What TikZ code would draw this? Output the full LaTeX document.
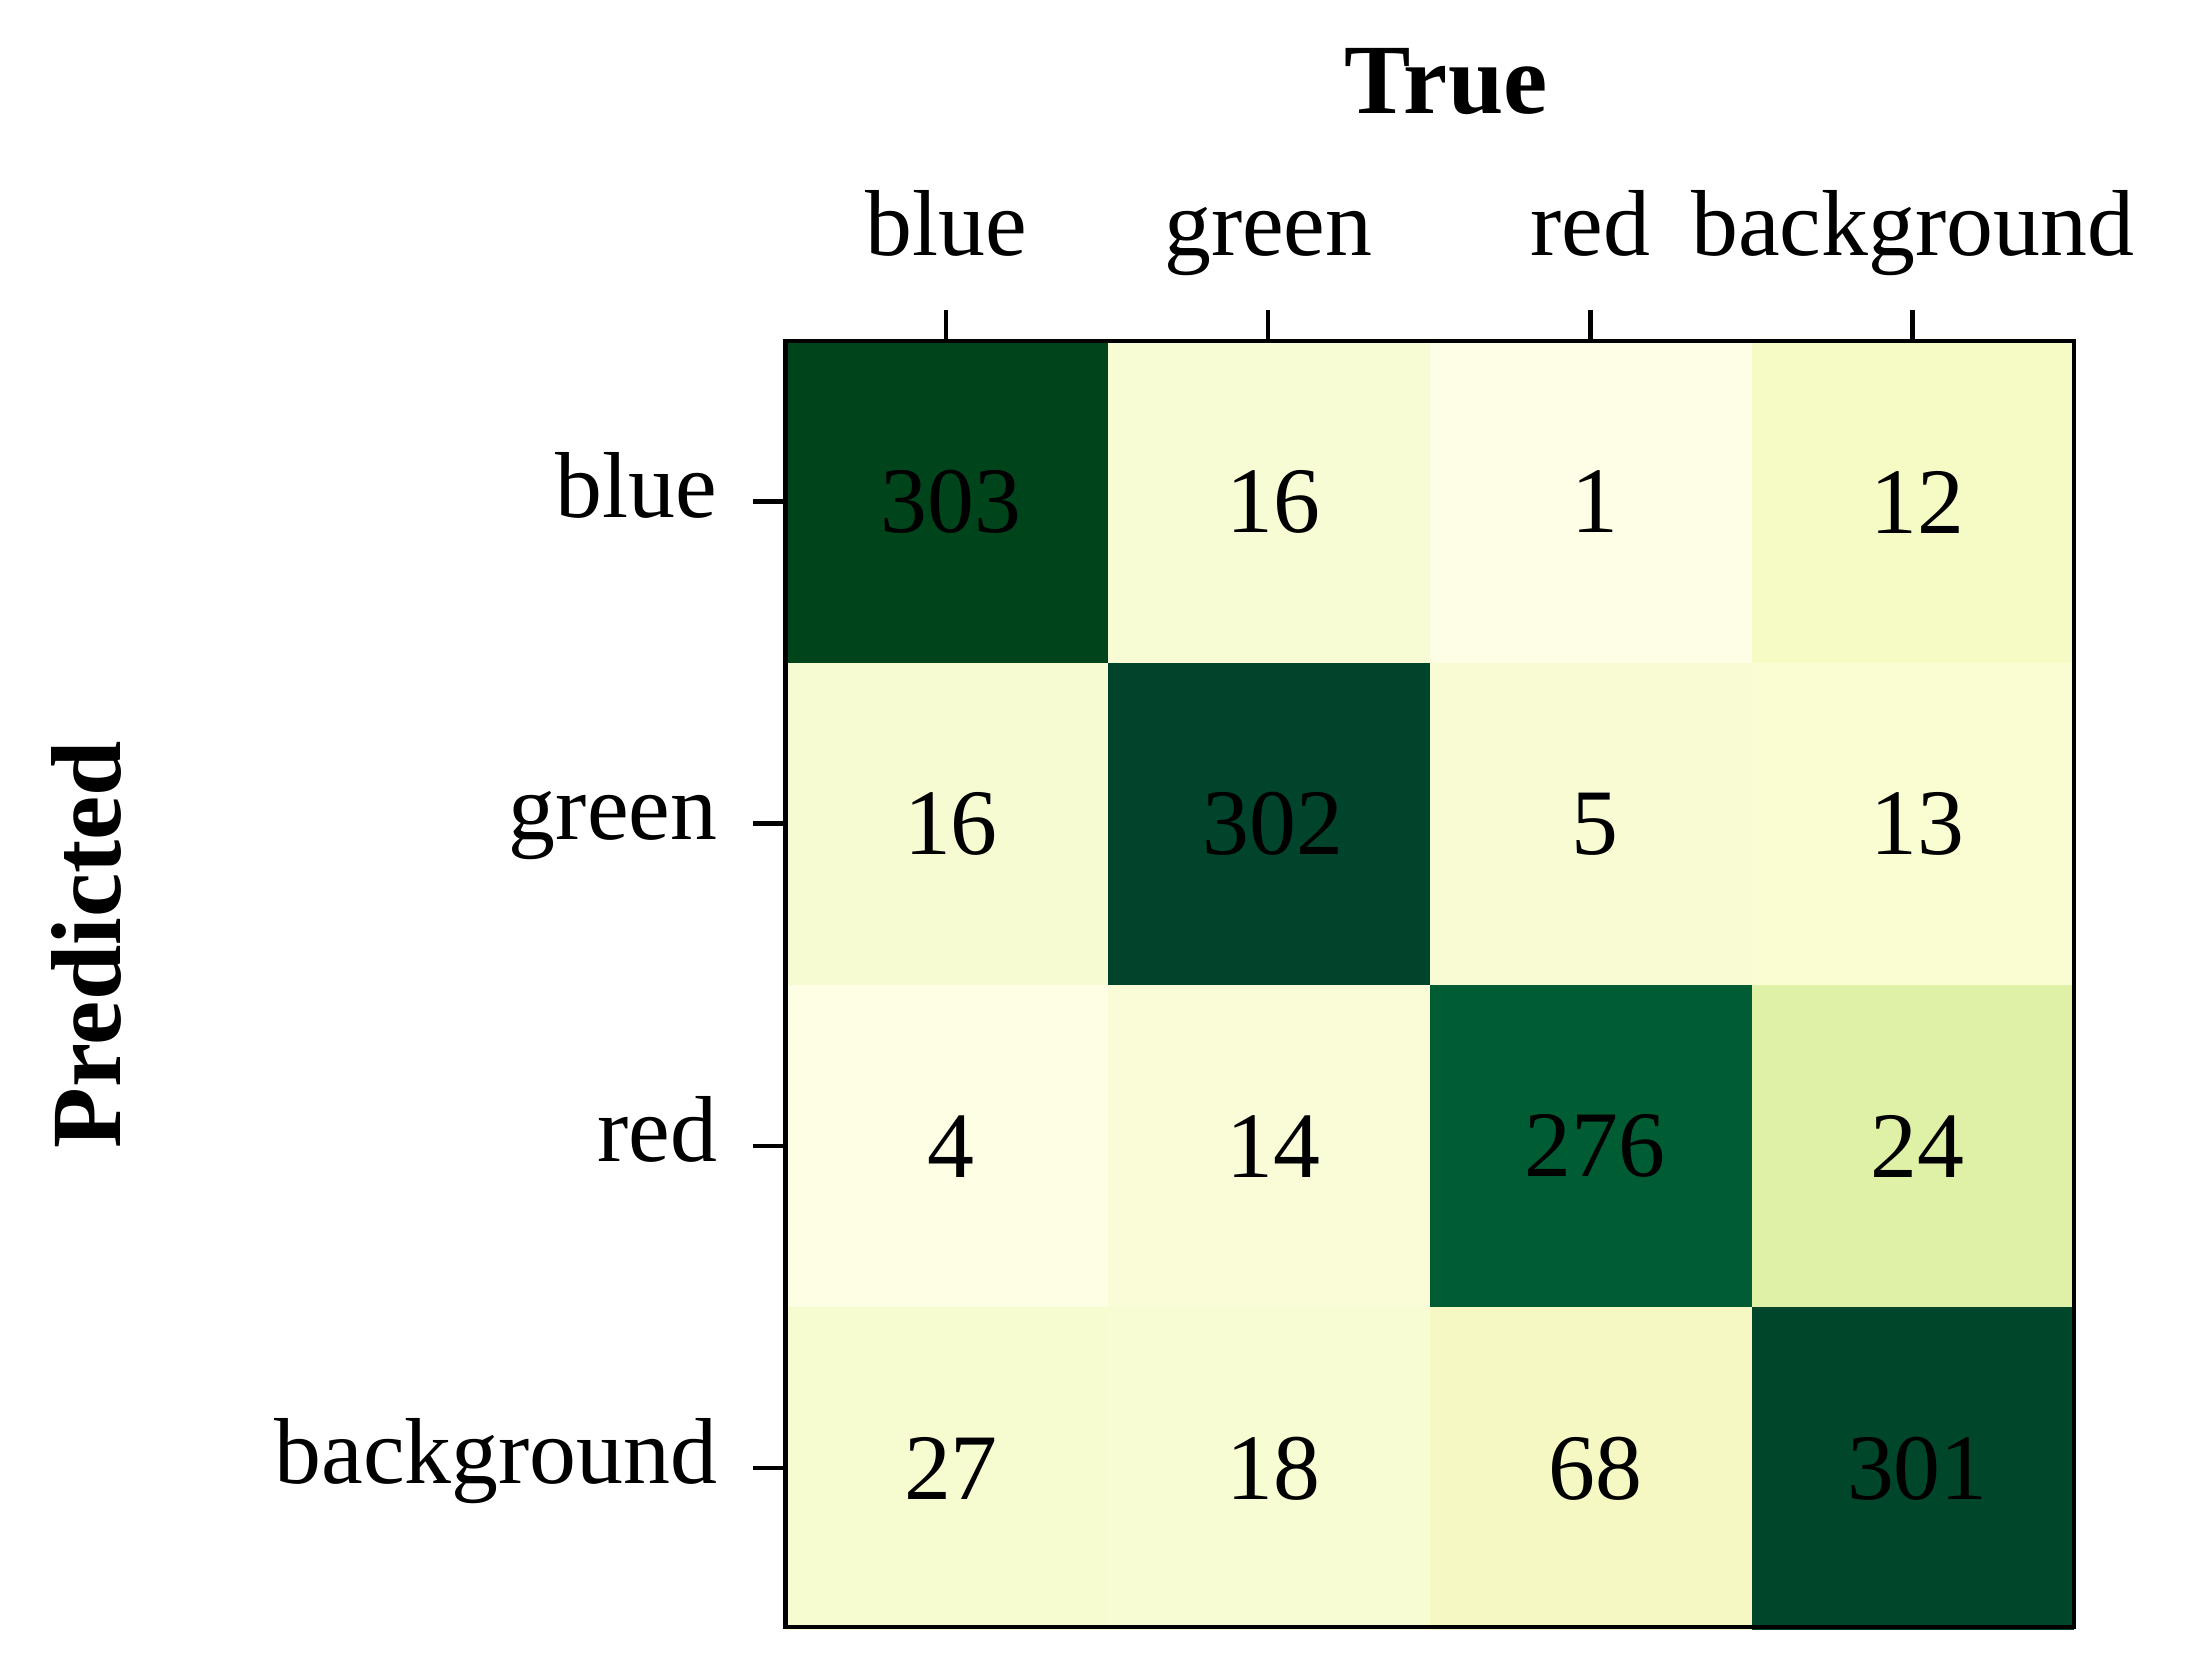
\documentclass[tikz,border=0pt]{standalone}
\usepackage{fontspec}
\setmainfont{Liberation Serif}
\begin{document}
\begin{tikzpicture}[x=1pt,y=-1pt,
  lab/.style={font=\fontsize{66}{70}\selectfont, inner sep=0pt},
  num/.style={font=\fontsize{66}{70}\selectfont, inner sep=0pt}]
\useasboundingbox (0,0) rectangle (1550,1170);
\def\cs{226.75}
\definecolor{c303}{HTML}{00441B}\definecolor{c302}{HTML}{00452B}\definecolor{c301}{HTML}{00462B}
\definecolor{c276}{HTML}{005C32}
\definecolor{c16}{HTML}{F8FCD4}\definecolor{c1}{HTML}{FEFEE6}\definecolor{c12}{HTML}{F6FAC4}
\definecolor{c5}{HTML}{F9FCD2}\definecolor{c13}{HTML}{FAFCD2}\definecolor{c24}{HTML}{DFF1A6}
\definecolor{c4}{HTML}{FDFEE4}\definecolor{c14}{HTML}{F9FCD6}\definecolor{c27}{HTML}{F7FBD0}
\definecolor{c18}{HTML}{F8FCD2}\definecolor{c68}{HTML}{F6F8C4}\definecolor{c16b}{HTML}{F7FBD2}
\def\row#1#2{%
  \foreach \v/\c [count=\i from 0] in {#2} {
    \fill[\c] (553+\i*\cs,240+#1*\cs) rectangle ++(\cs,\cs);
    \node[num] (n#1\i) at (553+\i*\cs+\cs/2+3,240+#1*\cs+\cs/2) {\v};
  }}
\row{0}{303/c303,16/c16,1/c1,12/c12}
\row{1}{16/c16b,302/c302,5/c5,13/c13}
\row{2}{4/c4,14/c14,276/c276,24/c24}
\row{3}{27/c27,18/c18,68/c68,301/c301}
\draw[line width=3pt] (553,240) rectangle (1460,1145);
\foreach \t [count=\i from 0] in {blue,green,red,background} {
  \draw[line width=3pt] (666+\i*\cs,240) -- ++(0,-22);
  \node[lab, anchor=base] (t\i) at (666+\i*\cs,180) {\t};
  \draw[line width=3pt] (553,353+\i*\cs) -- ++(-23,0);
  \node[lab, anchor=east] (l\i) at (505,350+\i*\cs) {\strut\t};
}
\node[font=\bfseries\fontsize{70}{74}\selectfont, anchor=base] (T) at (1018,80) {True};
\node[font=\bfseries\fontsize{70}{74}\selectfont, rotate=90, anchor=base] (P) at (85,665) {Predicted};
\end{tikzpicture}
\end{document}
